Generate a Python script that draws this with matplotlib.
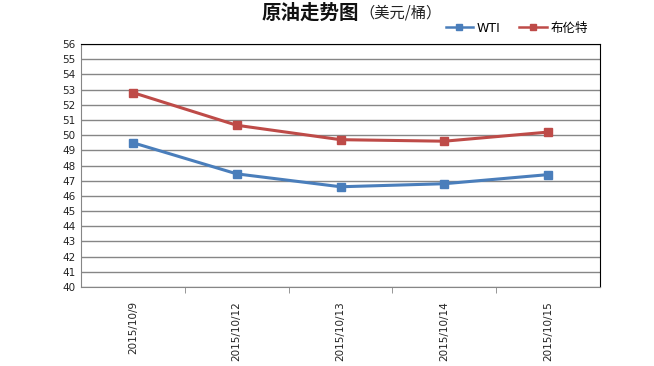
import matplotlib
matplotlib.use("Agg")
import matplotlib.pyplot as plt
from matplotlib.ticker import MultipleLocator, FixedLocator

plt.rcParams['font.family'] = ['DejaVu Sans', 'Noto Sans CJK SC']

dates = ["2015/10/9", "2015/10/12", "2015/10/13", "2015/10/14", "2015/10/15"]
wti = [49.5, 47.45, 46.6, 46.8, 47.4]
brent = [52.8, 50.65, 49.7, 49.6, 50.2]

fig = plt.figure(figsize=(6.54, 3.66), dpi=100)
ax = fig.add_axes([81 / 654, 1 - 287 / 366, 519 / 654, 243 / 366])

x = list(range(len(dates)))
ax.plot(x, wti, color="#4a7ebb", lw=2.2, marker="s", ms=5.5, label="WTI")
ax.plot(x, brent, color="#be4b48", lw=2.2, marker="s", ms=5.5, label="布伦特")

ax.set_xlim(-0.5, len(dates) - 0.5)
ax.set_ylim(40, 56)
ax.yaxis.set_major_locator(MultipleLocator(1))
ax.grid(axis="y", color="#868686", lw=1)
ax.set_axisbelow(True)

ax.set_xticks(x)
ax.set_xticklabels(dates, rotation=90, fontsize=7.5, color="#222222")
ax.tick_params(axis="x", length=0, pad=10)
ax.xaxis.set_minor_locator(FixedLocator([i + 0.5 for i in range(len(dates) - 1)]))
ax.tick_params(axis="x", which="minor", length=4, color="#868686", direction="out")
ax.tick_params(axis="y", length=0, labelsize=7.5, labelcolor="#222222", pad=4)

for s in ["left", "bottom"]:
    ax.spines[s].set_color("#868686")
for s in ["top", "right"]:
    ax.spines[s].set_color("black")

# title: bold main part + lighter unit part
fig.text(359 / 654, 1 - 13 / 366, "原油走势图", fontsize=14, fontweight="bold",
         family=["Noto Sans CJK SC"], ha="right", va="center", color="#111111")
fig.text(359 / 654, 1 - 13 / 366, "（美元/桶）", fontsize=11,
         family=["Noto Sans CJK SC"], ha="left", va="center", color="#222222")

leg = ax.legend(loc="center right", bbox_to_anchor=((588 - 81) / 519, (287 - 28) / 243),
                ncol=2, frameon=False, handlelength=2.2, handletextpad=0.3,
                columnspacing=1.5, borderpad=0, borderaxespad=0, markerscale=0.9,
                prop={"family": ["DejaVu Sans", "Noto Sans CJK SC"], "size": 9})
for h in leg.get_lines():
    h.set_linewidth(1.8)

fig.savefig("out.png", dpi=100)
